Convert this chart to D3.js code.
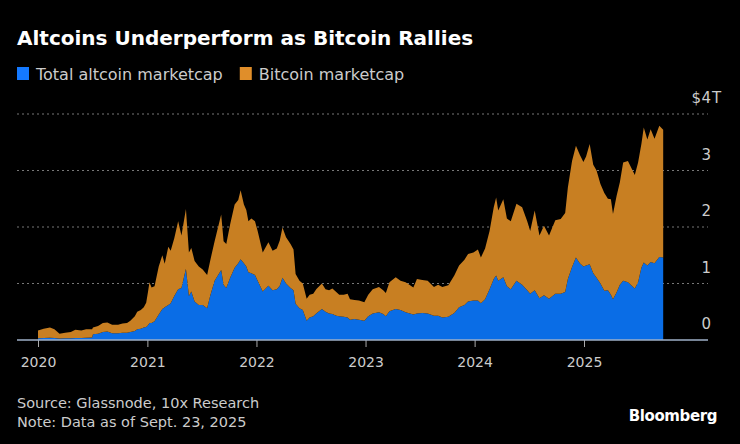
<!DOCTYPE html>
<html>
<head>
<meta charset="utf-8">
<script src="https://cdn.jsdelivr.net/npm/d3@7.9.0/dist/d3.min.js"></script>
<style>
  html, body { margin: 0; padding: 0; background: #000; }
  svg { display: block; font-family: "DejaVu Sans", "Liberation Sans", sans-serif; }
</style>
</head>
<body>
<svg id="chart" width="740" height="444"></svg>
<script>
// Data (trillions USD)
const dates = [
  "2020-01-01","2020-01-20","2020-02-10","2020-02-25","2020-03-13","2020-04-01","2020-04-20","2020-05-05",
  "2020-05-25","2020-06-10","2020-06-30","2020-07-03","2020-07-20","2020-08-05","2020-08-20","2020-09-05",
  "2020-09-25","2020-10-10","2020-10-25","2020-11-05","2020-11-20","2020-11-28","2020-12-10","2020-12-20",
  "2020-12-28","2021-01-03","2021-01-08","2021-01-15","2021-01-25","2021-02-08","2021-02-20","2021-02-28",
  "2021-03-12","2021-03-20","2021-04-01","2021-04-14","2021-04-25","2021-05-10","2021-05-20","2021-05-28",
  "2021-06-08","2021-06-22","2021-07-05","2021-07-20","2021-07-30","2021-08-14","2021-09-05","2021-09-13",
  "2021-09-22","2021-10-05","2021-10-20","2021-11-01","2021-11-09","2021-11-20","2021-11-28","2021-12-05",
  "2021-12-15","2021-12-27","2022-01-05","2022-01-22","2022-02-10","2022-02-24","2022-03-10","2022-03-20",
  "2022-03-29","2022-04-10","2022-04-25","2022-05-05","2022-05-12","2022-05-25","2022-06-05","2022-06-18",
  "2022-06-28","2022-07-10","2022-07-20","2022-08-08","2022-08-20","2022-09-01","2022-09-12","2022-09-25",
  "2022-10-05","2022-10-20","2022-11-02","2022-11-10","2022-11-25","2022-12-10","2022-12-28","2023-01-10",
  "2023-01-25","2023-02-15","2023-03-01","2023-03-10","2023-03-22","2023-04-12","2023-04-28","2023-05-15",
  "2023-06-10","2023-06-22","2023-07-10","2023-07-28","2023-08-18","2023-09-01","2023-09-15","2023-10-05",
  "2023-10-25","2023-11-10","2023-11-28","2023-12-10","2023-12-28","2024-01-12","2024-01-22","2024-02-05",
  "2024-02-20","2024-03-05","2024-03-13","2024-03-20","2024-04-06","2024-04-18","2024-05-01","2024-05-20",
  "2024-06-08","2024-06-25","2024-07-05","2024-07-20","2024-08-05","2024-08-20","2024-09-06","2024-09-27",
  "2024-10-15","2024-10-30","2024-11-08","2024-11-22","2024-12-05","2024-12-18","2024-12-30","2025-01-08",
  "2025-01-20","2025-02-01","2025-02-12","2025-02-25","2025-03-10","2025-03-22","2025-04-01","2025-04-08",
  "2025-04-20","2025-05-01","2025-05-12","2025-05-28","2025-06-20","2025-07-01","2025-07-12","2025-07-20",
  "2025-08-01","2025-08-12","2025-08-25","2025-09-10","2025-09-23"
];

const altcoin = [
  0.03,0.035,0.04,0.035,0.025,0.03,0.03,0.035,
  0.035,0.04,0.045,0.10,0.11,0.14,0.15,0.12,
  0.12,0.13,0.13,0.14,0.16,0.19,0.20,0.22,
  0.23,0.26,0.30,0.30,0.33,0.45,0.55,0.58,
  0.62,0.65,0.78,0.90,0.92,1.26,0.78,0.86,
  0.68,0.62,0.62,0.56,0.78,1.05,1.24,0.98,
  0.92,1.10,1.28,1.36,1.43,1.36,1.30,1.20,
  1.18,1.15,1.05,0.86,0.96,0.88,0.90,0.96,
  1.10,1.00,0.92,0.88,0.64,0.56,0.53,0.34,
  0.40,0.42,0.47,0.55,0.50,0.47,0.46,0.43,
  0.42,0.41,0.40,0.36,0.37,0.36,0.34,0.42,
  0.47,0.49,0.46,0.42,0.51,0.55,0.53,0.49,
  0.45,0.47,0.48,0.47,0.43,0.43,0.40,0.41,
  0.48,0.58,0.62,0.68,0.70,0.70,0.65,0.72,
  0.90,1.08,1.14,1.05,1.11,0.95,0.90,1.05,
  0.98,0.88,0.82,0.88,0.74,0.79,0.73,0.82,
  0.82,0.85,1.08,1.29,1.46,1.36,1.30,1.32,
  1.34,1.18,1.10,1.00,0.87,0.88,0.80,0.72,
  0.84,0.98,1.05,1.02,0.91,1.02,1.28,1.37,
  1.32,1.38,1.36,1.47,1.46
];

const bitcoin = [
  0.14,0.165,0.18,0.155,0.085,0.10,0.11,0.145,
  0.135,0.15,0.145,0.12,0.14,0.16,0.16,0.15,
  0.15,0.16,0.17,0.20,0.26,0.31,0.33,0.36,
  0.43,0.59,0.72,0.63,0.62,0.85,0.95,0.77,
  1.03,0.93,1.02,1.20,0.93,1.06,0.77,0.77,
  0.72,0.68,0.63,0.59,0.62,0.70,0.98,0.77,
  0.78,0.95,1.12,1.12,1.22,1.04,1.00,0.90,
  0.97,0.95,0.88,0.69,0.77,0.70,0.72,0.80,
  0.89,0.82,0.78,0.72,0.53,0.49,0.47,0.39,
  0.40,0.40,0.43,0.45,0.40,0.41,0.45,0.42,
  0.38,0.39,0.42,0.36,0.34,0.34,0.33,0.38,
  0.43,0.45,0.42,0.41,0.51,0.56,0.52,0.53,
  0.48,0.61,0.58,0.58,0.51,0.55,0.54,0.56,
  0.66,0.74,0.80,0.84,0.85,0.90,0.81,0.90,
  1.03,1.27,1.38,1.24,1.38,1.20,1.20,1.36,
  1.37,1.22,1.11,1.41,1.11,1.23,1.12,1.30,
  1.32,1.40,1.62,1.88,1.98,1.92,1.85,1.93,
  2.13,1.92,1.90,1.76,1.73,1.62,1.69,1.51,
  1.71,1.81,2.09,2.15,2.01,2.12,2.19,2.39,
  2.23,2.35,2.20,2.32,2.26
];

const seriesNames = ["Total altcoin marketcap", "Bitcoin marketcap"];
const seriesColors = ["#0a6de6", "#c87f22"];
const legendColors = ["#1479ff", "#e08e2a"];
const yTicks = [0, 1, 2, 3, 4];
const xTicks = [2020, 2021, 2022, 2023, 2024, 2025];

const svg = d3.select("#chart");
const left = 17, right = 708, baseY = 340;

const parse = d3.timeParse("%Y-%m-%d");
const rows = dates.map((d, i) => ({ date: parse(d), alt: altcoin[i], btc: bitcoin[i] }));

const x = d3.scaleTime()
  .domain([new Date(2020, 0, 1), new Date(2025, 0, 1)])
  .range([38, 584]);
const y = d3.scaleLinear().domain([0, 4]).range([baseY, 114]);

const stacked = d3.stack().keys(["alt", "btc"])(rows);

const area = d3.area()
  .x(d => x(d.data.date))
  .y0(d => y(d[0]))
  .y1(d => y(d[1]));

// Gridlines
svg.append("g")
  .selectAll("line")
  .data(yTicks.filter(t => t > 0))
  .join("line")
  .attr("x1", left)
  .attr("x2", right)
  .attr("y1", d => y(d))
  .attr("y2", d => y(d))
  .attr("stroke", "#777")
  .attr("stroke-width", 1)
  .attr("stroke-dasharray", "2,3");

// Areas
svg.append("g")
  .selectAll("path")
  .data(stacked)
  .join("path")
  .attr("d", area)
  .attr("fill", (_, i) => seriesColors[i]);

// Y labels (right side, above the gridline)
const yLab = svg.append("g").attr("fill", "#ccc").attr("font-size", 15);
yLab.selectAll("text.num")
  .data(yTicks)
  .join("text")
  .attr("class", "num")
  .attr("x", 711)
  .attr("y", d => y(d) - 11)
  .attr("text-anchor", "end")
  .text(d => d);
yLab.append("text")
  .attr("x", 701)
  .attr("y", y(4) - 11)
  .attr("text-anchor", "end")
  .text("$");
yLab.append("text")
  .attr("x", 712)
  .attr("y", y(4) - 11)
  .text("T");

// X axis
const xAxis = d3.axisBottom(x)
  .tickValues(xTicks.map(v => new Date(v, 0, 1)))
  .tickFormat(d3.timeFormat("%Y"))
  .tickSize(7)
  .tickPadding(10);

const gx = svg.append("g")
  .attr("transform", `translate(0,${baseY})`)
  .call(xAxis);
gx.select(".domain").remove();
gx.selectAll(".tick line").attr("stroke", "#aaa");
gx.selectAll(".tick text")
  .attr("fill", "#ccc")
  .attr("font-size", 14)
  .attr("font-family", "DejaVu Sans, sans-serif");
gx.append("line")
  .attr("x1", left)
  .attr("x2", right)
  .attr("stroke", "#9fb0c8")
  .attr("stroke-width", 1.5);

// Title
svg.append("text")
  .attr("x", 17)
  .attr("y", 45)
  .attr("fill", "#fff")
  .attr("font-size", 20)
  .attr("font-weight", "bold")
  .text("Altcoins Underperform as Bitcoin Rallies");

// Legend
const legend = svg.append("g").attr("transform", "translate(17,80)");
let lx = 0;
seriesNames.forEach((name, i) => {
  legend.append("rect")
    .attr("x", lx)
    .attr("y", -13)
    .attr("width", 12)
    .attr("height", 13)
    .attr("fill", legendColors[i]);
  const t = legend.append("text")
    .attr("x", lx + 19)
    .attr("y", 0)
    .attr("fill", "#ccc")
    .attr("font-size", 16)
    .text(name);
  lx += 19 + t.node().getComputedTextLength() + 17;
});

// Footer
svg.append("text")
  .attr("x", 17).attr("y", 408)
  .attr("fill", "#ccc").attr("font-size", 14.5)
  .text("Source: Glassnode, 10x Research");
svg.append("text")
  .attr("x", 17).attr("y", 427)
  .attr("fill", "#ccc").attr("font-size", 14.5)
  .text("Note: Data as of Sept. 23, 2025");
svg.append("text")
  .attr("x", 717).attr("y", 421)
  .attr("text-anchor", "end")
  .attr("fill", "#fff").attr("font-size", 15)
  .attr("font-weight", "bold")
  .attr("letter-spacing", -0.4)
  .text("Bloomberg");
</script>
</body>
</html>
